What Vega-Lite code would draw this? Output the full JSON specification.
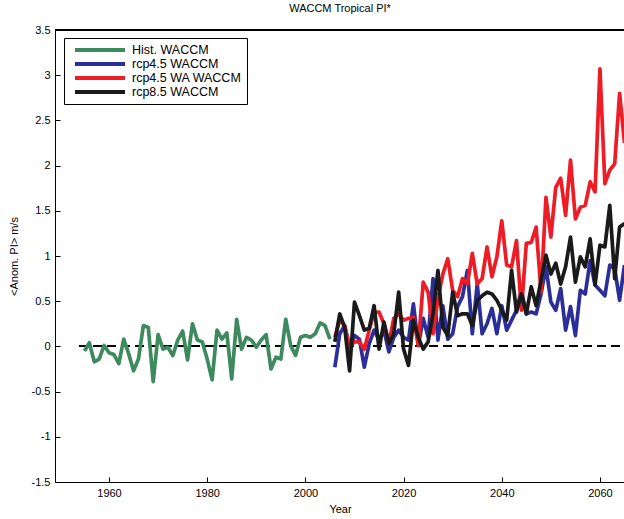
{
  "$schema": "https://vega.github.io/schema/vega-lite/v6.json",
  "autosize": {"type": "none"},
  "width": 570,
  "height": 452,
  "padding": {"left": 55, "top": 30, "right": 0, "bottom": 37},
  "background": "white",
  "config": {
    "font": "Liberation Sans",
    "view": {"stroke": null},
    "axis": {"grid": false, "domainColor": "#000000", "tickColor": "#000000", "labelColor": "#000000", "titleColor": "#000000", "labelFontSize": 11, "titleFontSize": 11, "titleFontWeight": "normal", "tickSize": -5, "domainWidth": 1, "tickWidth": 1}
  },
  "title": {"text": "WACCM Tropical PI*", "fontSize": 11, "fontWeight": "normal", "color": "#000000", "offset": 10},
  "data": {
    "values": [
      {"year": 1955, "hist": -0.05},
      {"year": 1956, "hist": 0.04},
      {"year": 1957, "hist": -0.17},
      {"year": 1958, "hist": -0.14},
      {"year": 1959, "hist": 0.01},
      {"year": 1960, "hist": -0.07},
      {"year": 1961, "hist": -0.09},
      {"year": 1962, "hist": -0.19},
      {"year": 1963, "hist": 0.08},
      {"year": 1964, "hist": -0.08},
      {"year": 1965, "hist": -0.27},
      {"year": 1966, "hist": -0.14},
      {"year": 1967, "hist": 0.23},
      {"year": 1968, "hist": 0.21},
      {"year": 1969, "hist": -0.39},
      {"year": 1970, "hist": 0.13},
      {"year": 1971, "hist": -0.03},
      {"year": 1972, "hist": -0.01},
      {"year": 1973, "hist": -0.1},
      {"year": 1974, "hist": 0.07},
      {"year": 1975, "hist": 0.17},
      {"year": 1976, "hist": -0.15},
      {"year": 1977, "hist": 0.25},
      {"year": 1978, "hist": 0.07},
      {"year": 1979, "hist": 0.05},
      {"year": 1980, "hist": -0.14},
      {"year": 1981, "hist": -0.37},
      {"year": 1982, "hist": 0.18},
      {"year": 1983, "hist": 0.08},
      {"year": 1984, "hist": 0.15},
      {"year": 1985, "hist": -0.36},
      {"year": 1986, "hist": 0.3},
      {"year": 1987, "hist": -0.03},
      {"year": 1988, "hist": 0.1},
      {"year": 1989, "hist": 0.07},
      {"year": 1990, "hist": -0.01},
      {"year": 1991, "hist": 0.07},
      {"year": 1992, "hist": 0.13},
      {"year": 1993, "hist": -0.25},
      {"year": 1994, "hist": -0.12},
      {"year": 1995, "hist": -0.14},
      {"year": 1996, "hist": 0.3},
      {"year": 1997, "hist": 0.01},
      {"year": 1998, "hist": -0.1},
      {"year": 1999, "hist": 0.1},
      {"year": 2000, "hist": 0.12},
      {"year": 2001, "hist": 0.1},
      {"year": 2002, "hist": 0.14},
      {"year": 2003, "hist": 0.26},
      {"year": 2004, "hist": 0.23},
      {"year": 2005, "hist": 0.08},
      {"year": 2006, "r45": -0.23, "r45wa": 0.1, "r85": 0.05},
      {"year": 2007, "r45": 0.14, "r45wa": 0.29, "r85": 0.36},
      {"year": 2008, "r45": 0.23, "r45wa": 0.23, "r85": 0.21},
      {"year": 2009, "r45": -0.01, "r45wa": -0.01, "r85": -0.27},
      {"year": 2010, "r45": 0.12, "r45wa": 0.05, "r85": 0.49},
      {"year": 2011, "r45": 0.08, "r45wa": 0.05, "r85": 0.34},
      {"year": 2012, "r45": -0.23, "r45wa": -0.03, "r85": 0.18},
      {"year": 2013, "r45": 0.03, "r45wa": 0.18, "r85": 0.2},
      {"year": 2014, "r45": 0.18, "r45wa": 0.38, "r85": 0.45},
      {"year": 2015, "r45": 0.07, "r45wa": 0.38, "r85": -0.03},
      {"year": 2016, "r45": 0.18, "r45wa": 0.25, "r85": 0.27},
      {"year": 2017, "r45": -0.06, "r45wa": 0.03, "r85": 0.03},
      {"year": 2018, "r45": 0.1, "r45wa": 0.31, "r85": 0.14},
      {"year": 2019, "r45": 0.18, "r45wa": 0.36, "r85": 0.6},
      {"year": 2020, "r45": 0.1, "r45wa": 0.29, "r85": -0.03},
      {"year": 2021, "r45": 0.07, "r45wa": 0.31, "r85": -0.21},
      {"year": 2022, "r45": 0.47, "r45wa": 0.32, "r85": 0.29},
      {"year": 2023, "r45": 0.01, "r45wa": 0.01, "r85": 0.1},
      {"year": 2024, "r45": 0.31, "r45wa": 0.71, "r85": -0.03},
      {"year": 2025, "r45": 0.1, "r45wa": 0.6, "r85": 0.05},
      {"year": 2026, "r45": 0.75, "r45wa": 0.14, "r85": 0.36},
      {"year": 2027, "r45": 0.07, "r45wa": 0.53, "r85": 0.84},
      {"year": 2028, "r45": 0.45, "r45wa": 0.8, "r85": 0.21},
      {"year": 2029, "r45": 0.08, "r45wa": 0.97, "r85": 0.12},
      {"year": 2030, "r45": 0.14, "r45wa": 0.62, "r85": 0.6},
      {"year": 2031, "r45": 0.44, "r45wa": 0.55, "r85": 0.34},
      {"year": 2032, "r45": 0.55, "r45wa": 0.75, "r85": 0.36},
      {"year": 2033, "r45": 0.84, "r45wa": 0.69, "r85": 0.36},
      {"year": 2034, "r45": 0.14, "r45wa": 1.03, "r85": 0.23},
      {"year": 2035, "r45": 0.69, "r45wa": 0.69, "r85": 0.51},
      {"year": 2036, "r45": 0.14, "r45wa": 0.75, "r85": 0.56},
      {"year": 2037, "r45": 0.25, "r45wa": 1.1, "r85": 0.6},
      {"year": 2038, "r45": 0.42, "r45wa": 0.77, "r85": 0.58},
      {"year": 2039, "r45": 0.14, "r45wa": 0.99, "r85": 0.51},
      {"year": 2040, "r45": 0.45, "r45wa": 1.39, "r85": 0.4},
      {"year": 2041, "r45": 0.18, "r45wa": 0.9, "r85": 0.29},
      {"year": 2042, "r45": 0.29, "r45wa": 0.88, "r85": 0.84},
      {"year": 2043, "r45": 0.4, "r45wa": 1.17, "r85": 0.38},
      {"year": 2044, "r45": 0.62, "r45wa": 0.4, "r85": 0.58},
      {"year": 2045, "r45": 0.36, "r45wa": 1.14, "r85": 0.36},
      {"year": 2046, "r45": 0.38, "r45wa": 1.15, "r85": 0.66},
      {"year": 2047, "r45": 0.36, "r45wa": 1.32, "r85": 0.45},
      {"year": 2048, "r45": 0.58, "r45wa": 0.6, "r85": 0.73},
      {"year": 2049, "r45": 0.88, "r45wa": 1.65, "r85": 1.01},
      {"year": 2050, "r45": 0.49, "r45wa": 1.21, "r85": 0.8},
      {"year": 2051, "r45": 0.4, "r45wa": 1.76, "r85": 0.92},
      {"year": 2052, "r45": 0.64, "r45wa": 1.86, "r85": 0.69},
      {"year": 2053, "r45": 0.18, "r45wa": 1.45, "r85": 0.88},
      {"year": 2054, "r45": 0.44, "r45wa": 2.06, "r85": 1.21},
      {"year": 2055, "r45": 0.12, "r45wa": 1.41, "r85": 0.71},
      {"year": 2056, "r45": 0.62, "r45wa": 1.54, "r85": 0.99},
      {"year": 2057, "r45": 0.58, "r45wa": 1.56, "r85": 0.88},
      {"year": 2058, "r45": 0.95, "r45wa": 1.82, "r85": 1.19},
      {"year": 2059, "r45": 0.68, "r45wa": 1.71, "r85": 0.68},
      {"year": 2060, "r45": 0.62, "r45wa": 3.07, "r85": 1.12},
      {"year": 2061, "r45": 0.56, "r45wa": 1.8, "r85": 1.1},
      {"year": 2062, "r45": 0.9, "r45wa": 1.95, "r85": 1.56},
      {"year": 2063, "r45": 0.86, "r45wa": 2.02, "r85": 0.75},
      {"year": 2064, "r45": 0.51, "r45wa": 2.8, "r85": 1.32},
      {"year": 2065, "r45": 0.9, "r45wa": 2.25, "r85": 1.36}
    ]
  },
  "layer": [
    {
      "mark": {"type": "rule", "color": "#000000", "strokeWidth": 0.9, "strokeDash": [8, 6], "clip": true},
      "encoding": {
        "y": {"datum": 0, "type": "quantitative"},
        "x": {"datum": 1954, "type": "quantitative"},
        "x2": {"datum": 2065.1}
      }
    },
    {
      "mark": {"type": "rule", "color": "#000000", "strokeWidth": 1, "clip": false},
      "encoding": {
        "y": {"datum": 3.5, "type": "quantitative"}
      }
    },
    {
      "transform": [
        {"fold": ["hist", "r45", "r45wa", "r85"], "as": ["series", "v"]},
        {"filter": "isValid(datum.v)"}
      ],
      "mark": {"type": "line", "strokeWidth": 3.7, "clip": true, "strokeJoin": "round"},
      "encoding": {
        "x": {
          "field": "year", "type": "quantitative",
          "scale": {"domain": [1949, 2065.1], "nice": false, "zero": false},
          "axis": {"title": "Year", "values": [1960, 1980, 2000, 2020, 2040, 2060], "labelExpr": "datum.value + ''", "labelPadding": 10, "titlePadding": 5}
        },
        "y": {
          "field": "v", "type": "quantitative",
          "scale": {"domain": [-1.5, 3.5], "nice": false, "zero": false},
          "axis": {"title": "<Anom. PI> m/s", "values": [-1.5, -1, -0.5, 0, 0.5, 1, 1.5, 2, 2.5, 3, 3.5], "labelExpr": "datum.value + ''", "labelPadding": 10, "titlePadding": 12}
        },
        "color": {
          "field": "series", "type": "nominal",
          "scale": {"domain": ["hist", "r45", "r45wa", "r85"], "range": ["#3d8a5f", "#2b2e98", "#ee1c25", "#1a1a1a"]},
          "legend": {
            "title": null, "orient": "none", "legendX": 9, "legendY": 8,
            "labelExpr": "{'hist': 'Hist. WACCM', 'r45': 'rcp4.5 WACCM', 'r45wa': 'rcp4.5 WA WACCM', 'r85': 'rcp8.5 WACCM'}[datum.label]",
            "symbolType": "stroke", "symbolSize": 2500, "symbolStrokeWidth": 4,
            "labelFontSize": 12.5, "labelColor": "#000000", "labelOffset": 5, "labelLimit": 300,
            "strokeColor": "#000000", "fillColor": "#ffffff", "padding": 5,
            "clipHeight": 14, "rowPadding": 0, "symbolOffset": 4
          }
        }
      }
    }
  ]
}
